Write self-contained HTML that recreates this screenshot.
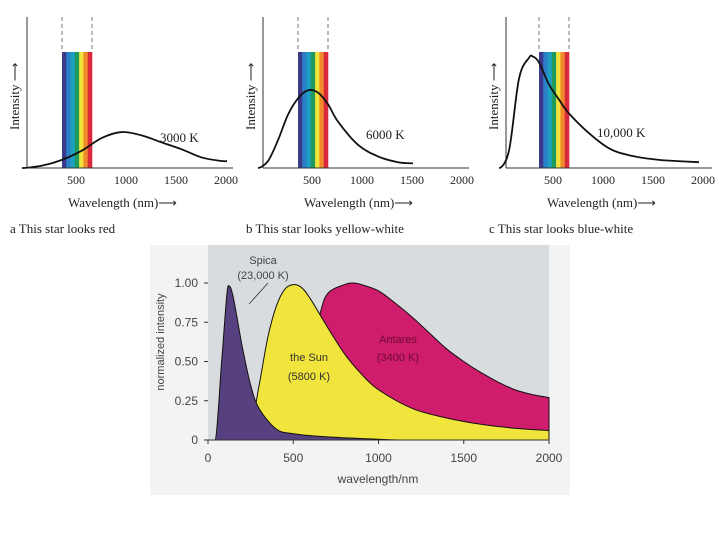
<!DOCTYPE html>
<html><head><meta charset="utf-8"><style>
body{margin:0;background:#fff;width:720px;height:540px;overflow:hidden}
svg{display:block}
.serif{font-family:"Liberation Serif",serif;fill:#222}
.sans{font-family:"Liberation Sans",sans-serif;fill:#444}
</style></head><body>
<svg id="c" width="720" height="540" xmlns="http://www.w3.org/2000/svg"></svg>
<script>
// Top panels data (wavelength nm, relative intensity)
const waveA=[0,200,400,600,800,1000,1200,1400,1600,1800,2000,2050];
const intA=[0,0.02,0.07,0.15,0.26,0.31,0.28,0.22,0.16,0.09,0.06,0.06];
const waveB=[0,100,200,300,400,500,600,700,800,1000,1200,1400,1550];
const intB=[0,0.06,0.24,0.46,0.6,0.67,0.65,0.55,0.4,0.2,0.1,0.05,0.04];
const waveC=[0,100,200,300,340,400,500,600,700,900,1100,1300,1600,2000];
const intC=[0,0.15,0.77,0.95,0.96,0.91,0.72,0.59,0.47,0.3,0.17,0.11,0.07,0.05];
const topTicks=[500,1000,1500,2000];
const tempLabels=["3000 K","6000 K","10,000 K"];
const captions=["a  This star looks red","b  This star looks yellow-white","c  This star looks blue-white"];
// Bottom chart data
const spicaW=[0,40,80,110,125,150,200,250,300,400,500,700,1000,1200,2000];
const spicaI=[0,0,0.5,0.92,0.98,0.9,0.6,0.35,0.2,0.07,0.04,0.02,0.005,0,0];
const sunW=[150,250,300,350,400,450,500,550,600,700,800,900,1000,1200,1400,1600,1800,2000];
const sunI=[0,0.1,0.35,0.65,0.85,0.96,0.99,0.97,0.9,0.72,0.55,0.42,0.32,0.2,0.14,0.1,0.075,0.06];
const antW=[450,550,650,700,800,850,900,1000,1100,1200,1300,1400,1500,1600,1700,1800,1900,2000];
const antI=[0,0.4,0.78,0.93,0.99,1.0,0.99,0.95,0.87,0.78,0.68,0.58,0.5,0.43,0.37,0.32,0.29,0.27];
const xTicks=[0,500,1000,1500,2000];
const yTicks=[0,0.25,0.5,0.75,1.0];
const yTickLabels=["0","0.25","0.50","0.75","1.00"];

const NS="http://www.w3.org/2000/svg";
const svg=document.getElementById('c');
function el(t,a,p){const e=document.createElementNS(NS,t);for(const k in a)e.setAttribute(k,a[k]);(p||svg).appendChild(e);return e;}
function smooth(pts,maxY){const c=y=>Math.min(y,maxY);let d="M"+pts[0][0]+","+pts[0][1];for(let i=1;i<pts.length;i++){const p0=pts[i-2]||pts[i-1],p1=pts[i-1],p2=pts[i],p3=pts[i+1]||p2;
let y1=c(p1[1]+(p2[1]-p0[1])/6),y2=c(p2[1]-(p3[1]-p1[1])/6);
if(p1[1]>=maxY-0.01)y1=maxY; if(p2[1]>=maxY-0.01)y2=maxY;
d+=" C"+(p1[0]+(p2[0]-p0[0])/6)+","+y1+" "+(p2[0]-(p3[0]-p1[0])/6)+","+y2+" "+p2[0]+","+p2[1];}return d;}

const panels=[{x0:22,ax:27,w:waveA,v:intA,lx:160,ly:142},{x0:258,ax:263,w:waveB,v:intB,lx:366,ly:139},{x0:499,ax:506,w:waveC,v:intC,lx:597,ly:137}];
const specCols=["#3b3a8a","#2a7fc8","#1d9fbf","#1f9a5a","#f2e33a","#f08a2a","#d82a3a"];
panels.forEach((P,i)=>{
  const g=el('g',{});
  
  
  const sx=w=>P.x0+w*0.1, base=168, sy=v=>base-v*116;
  const bw=(sx(700)-sx(400))/7;
  specCols.forEach((c,k)=>{const r=el('rect',{x:sx(400)+k*bw,y:52,width:bw+0.3,height:116,fill:c},g);
    });
  [400,700].forEach(w=>{const l=el('line',{x1:sx(w),x2:sx(w),y1:17,y2:52,stroke:'#777','stroke-dasharray':'4,3'},g);
    });
  el('line',{x1:P.ax,x2:P.ax,y1:17,y2:base,stroke:'#333','stroke-width':1},g);
  el('line',{x1:P.ax,x2:P.ax+206,y1:base,y2:base,stroke:'#333','stroke-width':1},g);
  const cur=el('path',{d:smooth(P.w.map((w,k)=>[sx(w),sy(P.v[k])]),base),fill:'none',stroke:'#111','stroke-width':1.8},g);
  
  topTicks.forEach(t=>{const tx=el('text',{x:sx(t)+4,y:184,'text-anchor':'middle','font-size':12,class:'serif'},g);tx.textContent=t;
    });
  const tl=el('text',{x:P.lx,y:P.ly,'font-size':13,class:'serif'},g);tl.textContent=tempLabels[i];
  
  const xt=el('text',{x:P.ax+41,y:207,'font-size':13,class:'serif'},g);xt.textContent="Wavelength (nm)⟶";
  
  const yt=el('text',{x:0,y:0,'font-size':13,class:'serif',transform:'translate('+(P.ax-8)+',130) rotate(-90)'},g);yt.textContent="Intensity ⟶";
  
  const cp=el('text',{x:P.ax-17,y:233,'font-size':13,class:'serif'},g);cp.textContent=captions[i];
  
});

// bottom chart
const B=el('g',{});


el('rect',{x:150,y:245,width:420,height:250,fill:'#f2f3f4'},B);
const X=w=>208+w*(341/2000), Y=v=>440-v*157;
el('rect',{x:208,y:245,width:341,height:195,fill:'#d9dcdf'},B);
function area(W,I,fill,name){const pts=W.map((w,k)=>[X(w),Y(I[k])]);
  const p=el('path',{d:smooth(pts,Y(0))+" L"+X(W[W.length-1])+","+Y(0)+" L"+X(W[0])+","+Y(0)+"Z",fill:fill,stroke:'#111','stroke-width':1},B);
  }
area(antW,antI,'#d01c6c','antares-area');
area(sunW,sunI,'#f1e43c','sun-area');
area(spicaW,spicaI,'#57407f','spica-area');
el('line',{x1:208,x2:549,y1:440,y2:440,stroke:'#333'},B);
xTicks.forEach(t=>{el('line',{x1:X(t),x2:X(t),y1:440,y2:444,stroke:'#333'},B);
  const tx=el('text',{x:X(t),y:462,'text-anchor':'middle','font-size':12,class:'sans'},B);tx.textContent=t;
  });
yTicks.forEach((t,k)=>{el('line',{x1:204,x2:208,y1:Y(t),y2:Y(t),stroke:'#333'},B);
  const tx=el('text',{x:198,y:Y(t)+4,'text-anchor':'end','font-size':12,class:'sans'},B);tx.textContent=yTickLabels[k];
  });
const xl=el('text',{x:378,y:483,'text-anchor':'middle','font-size':12,class:'sans'},B);xl.textContent="wavelength/nm";

const yl=el('text',{x:0,y:0,'text-anchor':'middle','font-size':11,class:'sans',transform:'translate(164,342) rotate(-90)'},B);yl.textContent="normalized intensity";

function lab(x,y,t,c,name){const e=el('text',{x:x,y:y,'text-anchor':'middle','font-size':11,class:'sans',fill:c},B);e.textContent=t;e.style.fill=c;
  }
lab(263,264,"Spica","#444","spica-label");lab(263,279,"(23,000 K)","#444","spica-temp-label");
lab(309,361,"the Sun","#333","sun-label");lab(309,380,"(5800 K)","#333","sun-temp-label");
lab(398,343,"Antares","#6a0c32","antares-label");lab(398,361,"(3400 K)","#6a0c32","antares-temp-label");
el('line',{x1:249,y1:304,x2:268,y2:283,stroke:'#333','stroke-width':0.8},B);
</script>
</body></html>
